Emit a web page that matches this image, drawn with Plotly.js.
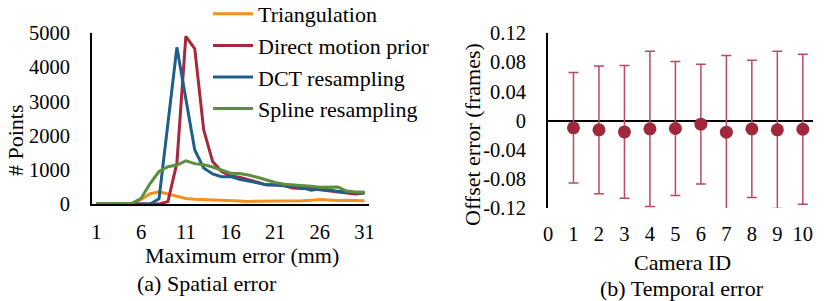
<!DOCTYPE html>
<html>
<head>
<meta charset="utf-8">
<script src="https://cdn.plot.ly/plotly-3.0.1.min.js"></script>
<style>html,body{margin:0;padding:0;background:#fff;}#chart{width:831px;height:301px;}</style>
</head>
<body>
<div id="chart"></div>
<script>
// ---- Data: (a) Spatial error ----
const errorMM = [1,2,3,4,5,6,7,8,9,10,11,12,13,14,15,16,17,18,19,20,21,22,23,24,25,26,27,28,29,30,31];
const triangulation = [0,0,0,0,0,130,300,360,290,210,160,140,125,110,100,95,85,75,75,80,85,90,90,95,110,130,120,100,110,105,95];
const directMotionPrior = [0,0,0,0,0,0,0,0,70,1200,4900,4540,2170,1240,950,820,780,720,640,560,560,530,470,450,460,420,380,350,320,290,320];
const dctResampling = [0,0,0,0,0,0,0,150,2400,4580,3080,1580,1050,880,800,800,720,680,620,560,560,540,520,480,400,440,420,370,350,320,330];
const splineResampling = [0,0,0,0,20,170,600,950,1090,1140,1260,1180,1150,1080,1000,900,890,850,780,700,630,580,560,560,520,490,490,500,380,350,350];
const seriesNames = ["Triangulation","Direct motion prior","DCT resampling","Spline resampling"];
const xTicksA = [1,6,11,16,21,26,31];
const yTicksA = [0,1000,2000,3000,4000,5000];

// ---- Data: (b) Temporal error ----
const cameraID = [1,2,3,4,5,6,7,8,9,10];
const offsetMean = [-0.010,-0.0128,-0.0157,-0.0114,-0.011,-0.005,-0.016,-0.0115,-0.0128,-0.012];
const offsetStd = [0.0758,0.0877,0.091,0.1064,0.0918,0.0822,0.105,0.094,0.1078,0.103];
const xTicksB = [0,1,2,3,4,5,6,7,8,9,10];
const yTicksB = [-0.12,-0.08,-0.04,0,0.04,0.08,0.12];
const yTickTextB = ["-0.12","-0.08","-0.04","0","0.04","0.08","0.12"];

const colors = ["#F5901E","#A8283B","#1E5E8A","#5B8E3E"];
const FONT = "Liberation Serif";
const TICK_FS = 20.5;
const TITLE_FS = 22;
const W = 831, H = 301;
const px = v => v / W;
const py = v => (H - v) / H;

const seriesData = [triangulation, directMotionPrior, dctResampling, splineResampling];
const traces = seriesData.map((ys, i) => ({
  type: "scatter", mode: "lines", x: errorMM, y: ys, name: seriesNames[i],
  line: {color: colors[i], width: 3}, xaxis: "x", yaxis: "y",
  legendgroup: "g" + i
}));
traces.push({
  type: "scatter", mode: "markers", x: cameraID, y: offsetMean, showlegend: false,
  marker: {color: "#A0283A", size: 13},
  error_y: {type: "data", array: offsetStd, symmetric: true, color: "#BA4A60", thickness: 1.5, width: 5},
  xaxis: "x2", yaxis: "y2"
});

const tickFont = {family: FONT, size: TICK_FS, color: "#000"};
const titleFont = {family: FONT, size: TITLE_FS, color: "#000"};
const ann = (text, x, y, angle) => ({text, xref: "paper", yref: "paper", x: px(x), y: py(y),
  xanchor: "center", yanchor: "middle", textangle: angle || 0, showarrow: false, font: titleFont});
const layout = {
  width: W, height: H,
  margin: {l: 0, r: 0, t: 0, b: 0, pad: 0, autoexpand: false},
  paper_bgcolor: "#fff", plot_bgcolor: "rgba(0,0,0,0)",
  font: {family: FONT, size: TICK_FS, color: "#000"},
  showlegend: true,
  legend: {x: px(208), y: 1 + 7 / H, xanchor: "left", yanchor: "top", font: titleFont, itemwidth: 40,
    traceorder: "grouped", tracegroupgap: 0, bgcolor: "rgba(0,0,0,0)"},
  xaxis: {domain: [px(92), px(369)], range: [0.5, 31.5], tickvals: xTicksA, ticktext: xTicksA.map(String),
    showgrid: false, zeroline: false, showline: true, linecolor: "#000", linewidth: 2, ticks: "",
    ticklabelstandoff: 8, tickfont: tickFont, anchor: "y", fixedrange: true},
  yaxis: {domain: [py(204), py(33)], range: [0, 5000], tickvals: yTicksA, ticktext: yTicksA.map(String),
    showgrid: false, zeroline: false, showline: true, linecolor: "#000", linewidth: 2, ticks: "",
    ticklabelstandoff: 16, tickfont: tickFont, anchor: "x", fixedrange: true},
  xaxis2: {domain: [px(548), px(813)], range: [0, 10.4], tickvals: xTicksB, ticktext: xTicksB.map(String),
    showgrid: false, zeroline: false, showline: false, ticks: "",
    ticklabelstandoff: 11, tickfont: tickFont, anchor: "y2", fixedrange: true},
  yaxis2: {domain: [py(208), py(33)], range: [-0.12, 0.12], tickvals: yTicksB, ticktext: yTickTextB,
    showgrid: false, zeroline: true, zerolinecolor: "#000", zerolinewidth: 2,
    showline: true, linecolor: "#000", linewidth: 2, ticks: "",
    ticklabelstandoff: 16, tickfont: tickFont, anchor: "x2", fixedrange: true},
  annotations: [
    ann("# Points", 15, 140, -90),
    ann("Maximum error (mm)", 242, 255),
    ann("(a) Spatial error", 207, 283),
    ann("Offset error (frames)", 472, 135, -90),
    ann("Camera ID", 682, 262),
    ann("(b) Temporal error", 682, 288)
  ]
};
Plotly.newPlot("chart", traces, layout, {displayModeBar: false, staticPlot: true});
</script>
</body>
</html>
